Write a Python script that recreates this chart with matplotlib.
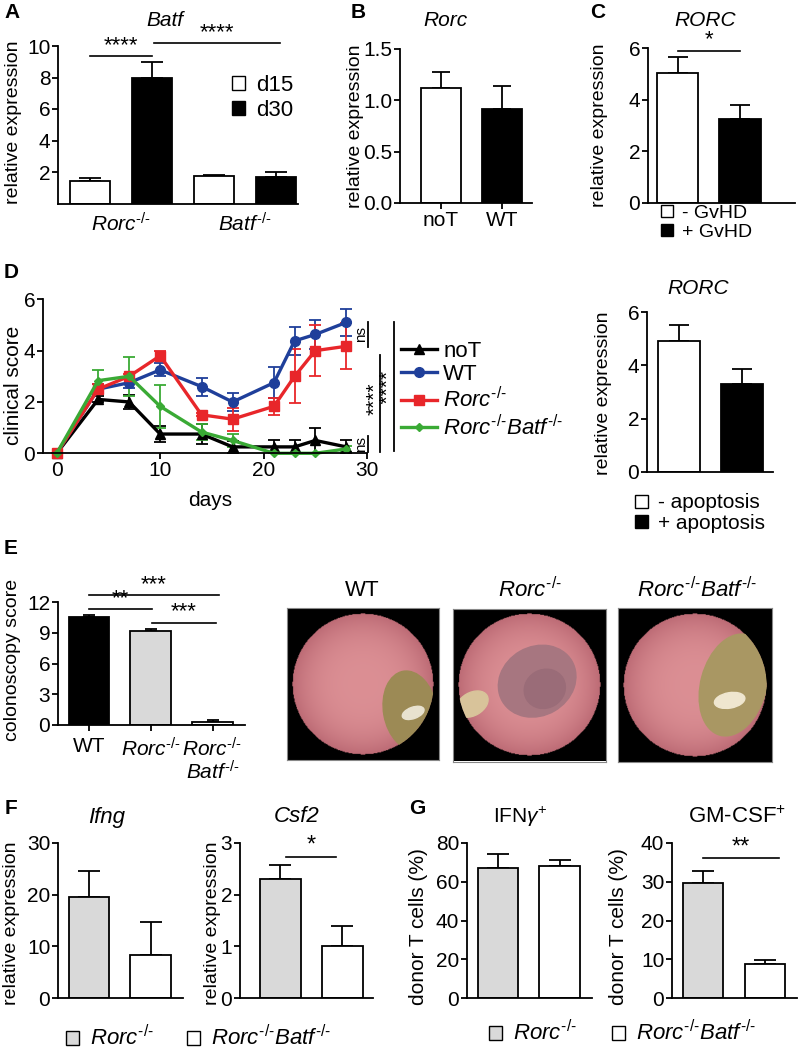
import numpy as np
import matplotlib
matplotlib.use("Agg")
import matplotlib.pyplot as plt
from matplotlib.patches import Patch, Ellipse, Circle

plt.rcParams['font.family'] = ['Liberation Sans', 'DejaVu Sans']
plt.rcParams['mathtext.fontset'] = 'custom'
plt.rcParams['mathtext.rm'] = 'Liberation Sans'
plt.rcParams['mathtext.it'] = 'Liberation Sans:italic'
plt.rcParams['mathtext.bf'] = 'Liberation Sans:bold'

KO = r'^{\text{-/-}}'
RORC = r'$\mathit{Rorc}' + KO + '$'
BATF = r'$\mathit{Batf}' + KO + '$'
RB = r'$\mathit{Rorc}' + KO + r'\mathit{Batf}' + KO + '$'

# A: Batf expression
batf_d15 = [1.45, 1.72]
batf_d15_err = [0.15, 0.10]
batf_d30 = [8.0, 1.7]
batf_d30_err = [1.0, 0.32]
# B: Rorc expression
rorc_groups = ['noT', 'WT']
rorc_vals = [1.12, 0.92]
rorc_err = [0.16, 0.22]
# C: RORC in GvHD
gvhd_vals = [5.05, 3.25]
gvhd_err = [0.60, 0.55]
# D: clinical score
days = [0, 4, 7, 10, 14, 17, 21, 23, 25, 28]
score_noT = [0, 2.1, 2.0, 0.75, 0.75, 0.25, 0.25, 0.25, 0.5, 0.25]
score_noT_err = [0, 0.12, 0.28, 0.3, 0.4, 0.22, 0.25, 0.25, 0.5, 0.25]
score_wt = [0, 2.5, 2.75, 3.25, 2.6, 2.0, 2.75, 4.38, 4.63, 5.1]
score_wt_err = [0, 0.2, 0.2, 0.25, 0.35, 0.35, 0.6, 0.55, 0.55, 0.52]
score_rorc = [0, 2.5, 3.0, 3.8, 1.5, 1.33, 1.83, 3.0, 4.0, 4.17]
score_rorc_err = [0, 0.2, 0.1, 0.17, 0.06, 0.45, 0.32, 1.05, 1.0, 0.9]
score_rb = [0, 2.83, 3.0, 1.83, 0.83, 0.5, 0, 0, 0, 0.17]
score_rb_err = [0, 0.43, 0.75, 0.83, 0.3, 0.25, 0, 0, 0, 0.1]
# D right: RORC and apoptosis
apop_vals = [4.9, 3.3]
apop_err = [0.6, 0.55]
# E: colonoscopy score
colon_groups = ['WT', RORC, RORC + '\n' + BATF]
colon_vals = [10.55, 9.2, 0.33]
colon_err = [0.15, 0.12, 0.12]
# F: expression
ifng_vals = [19.5, 8.4]
ifng_err = [5.0, 6.4]
csf2_vals = [2.3, 1.0]
csf2_err = [0.27, 0.4]
# G: donor T cells
ifn_pct = [67.0, 68.3]
ifn_pct_err = [7.3, 3.1]
gm_pct = [29.6, 8.7]
gm_pct_err = [3.3, 1.0]

GRAY = '#d9d9d9'
TICK = 15
W, H = 799, 1051
fig = plt.figure(figsize=(W / 100, H / 100), dpi=100)


def box(l, t, r, b):
    return fig.add_axes([l / W, 1 - b / H, (r - l) / W, (b - t) / H])


def txt(x, y, s, **kw):
    kw.setdefault('ha', 'center')
    kw.setdefault('va', 'center')
    fig.text(x / W, 1 - y / H, s, **kw)


def style(ax, xlim, ylim, yticks, fmt=None):
    for s in ['top', 'right']:
        ax.spines[s].set_visible(False)
    for s in ['left', 'bottom']:
        ax.spines[s].set_linewidth(1.3)
    ax.set_xlim(*xlim)
    ax.set_ylim(*ylim)
    ax.set_yticks(yticks)
    if fmt:
        ax.set_yticklabels([fmt % v for v in yticks])
    ax.tick_params(direction='out', length=4, width=1.3, labelsize=TICK, pad=1.5)
    ax.set_facecolor('none')


def bars(ax, vals, errs, colors, cap=7):
    pos = np.arange(len(vals))
    ax.bar(pos, vals, width=0.66, color=colors, edgecolor='k', linewidth=1.3, zorder=2)
    ax.errorbar(pos, vals, yerr=[np.zeros(len(vals)), errs], fmt='none', ecolor='k',
                elinewidth=1.3, capsize=cap, capthick=1.3, zorder=1)
    return pos


def sig(ax, x1, x2, y, s, size=16):
    ax.plot([x1, x2], [y, y], color='k', lw=1.2, clip_on=False)
    ax.text((x1 + x2) / 2, y, s, ha='center', va='bottom', fontsize=size)


def sq_legend(x, y, labels, colors, size=14, spacing=0.2):
    handles = [Patch(facecolor=c, edgecolor='k', linewidth=1.0) for c in colors]
    fig.legend(handles, labels, loc='center left', bbox_to_anchor=(x / W, 1 - y / H),
               frameon=False, fontsize=size, handlelength=0.6, handleheight=0.6,
               handletextpad=0.5, labelspacing=spacing, borderpad=0, borderaxespad=0)


# ---- A ----
axA = box(58, 46, 298, 203.5)
style(axA, (-0.516, 3.355), (0, 10), [2, 4, 6, 8, 10])
vals = [batf_d15[0], batf_d30[0], batf_d15[1], batf_d30[1]]
errs = [batf_d15_err[0], batf_d30_err[0], batf_d15_err[1], batf_d30_err[1]]
bars(axA, vals, errs, ['white', 'k', 'white', 'k'], cap=8)
axA.set_xticks([0.5, 2.5])
axA.set_xticklabels([RORC, BATF], fontsize=15)
axA.tick_params(axis='x', length=0, pad=6)
sig(axA, 0, 1, 9.35, '****')
sig(axA, 1.03, 3.06, 10.2, '****')
sq_legend(232, 98, ['d15', 'd30'], ['white', 'k'], size=16)
txt(165, 20, 'Batf', fontsize=15, style='italic')
txt(14, 122, 'relative expression', rotation=90, fontsize=14)
txt(12, 12, 'A', fontsize=15, weight='bold')

# ---- B ----
axB = box(400, 49, 532, 203)
style(axB, (-0.672, 1.492), (0, 1.5), [0.0, 0.5, 1.0, 1.5], fmt='%.1f')
p = bars(axB, rorc_vals, rorc_err, ['white', 'k'], cap=6.5)
axB.set_xticks(p)
axB.set_xticklabels(rorc_groups, fontsize=15)
txt(445, 20, 'Rorc', fontsize=15, style='italic')
txt(355, 126, 'relative expression', rotation=90, fontsize=14)
txt(358, 12, 'B', fontsize=15, weight='bold')

# ---- C ----
axC = box(648, 48, 795, 203)
style(axC, (-0.472, 1.88), (0, 6), [0, 2, 4, 6])
bars(axC, gvhd_vals, gvhd_err, ['white', 'k'], cap=7)
axC.set_xticks([])
sig(axC, 0, 1, 5.9, '*')
sq_legend(661, 223, ['- GvHD', '+ GvHD'], ['white', 'k'], size=14, spacing=0.1)
txt(705, 20, 'RORC', fontsize=15, style='italic')
txt(599, 125, 'relative expression', rotation=90, fontsize=14)
txt(598, 12, 'C', fontsize=15, weight='bold')

# ---- D ----
axD = box(43, 299.3, 367, 453.3)
style(axD, (-1.33, 30), (0, 6), [0, 2, 4, 6])
axD.set_xticks([0, 10, 20, 30])
series = [
    ('noT', score_noT, score_noT_err, 'k', '^', 7),
    ('WT', score_wt, score_wt_err, '#1f3f9a', 'o', 7),
    (RORC, score_rorc, score_rorc_err, '#e8262a', 's', 7),
    (RB, score_rb, score_rb_err, '#3aaa35', 'D', 4),
]
handles = []
for label, y, e, c, m, ms in series:
    cont = axD.errorbar(days, y, yerr=e, color=c, marker=m, ms=ms, lw=2.4,
                        elinewidth=1.3, capsize=4, capthick=1.3, clip_on=False, label=label)
    handles.append(cont[0])
axD.plot([30.1, 30.1], [4.14, 5.11], color='k', lw=1.3, clip_on=False)
axD.text(29.45, 4.63, 'ns', rotation=90, ha='center', va='center', fontsize=11)
axD.plot([30.1, 30.1], [0.05, 0.67], color='k', lw=1.3, clip_on=False)
axD.text(29.45, 0.36, 'ns', rotation=90, ha='center', va='center', fontsize=11)
axD.plot([31.3, 31.3], [0.05, 3.83], color='k', lw=1.3, clip_on=False)
axD.plot([32.6, 32.6], [0.09, 5.11], color='k', lw=1.3, clip_on=False)
# both star columns in one rotated two-line text
axD.text(31.45, 2.35, '****\n  ****', rotation=90, ha='center', va='center',
         multialignment='left', linespacing=0.62, fontsize=15)
fig.legend(handles, [s[0] for s in series], loc='upper left',
           bbox_to_anchor=(401 / W, 1 - 341 / H), frameon=False, fontsize=16,
           handlelength=1.6, handletextpad=0.3, labelspacing=0.1, borderpad=0,
           borderaxespad=0)
txt(210, 500, 'days', fontsize=15)
txt(14, 385, 'clinical score', rotation=90, fontsize=15)
txt(11, 273, 'D', fontsize=15, weight='bold')

# ---- D right ----
axR = box(647, 312, 773, 472)
style(axR, (-0.508, 1.492), (0, 6), [0, 2, 4, 6])
bars(axR, apop_vals, apop_err, ['white', 'k'], cap=7)
axR.set_xticks([])
sq_legend(635, 513, ['- apoptosis', '+ apoptosis'], ['white', 'k'], size=15, spacing=0.05)
txt(698, 288, 'RORC', fontsize=15, style='italic')
txt(604, 393, 'relative expression', rotation=90, fontsize=14)

# ---- E ----
axE = box(58, 602, 245, 725)
style(axE, (-0.502, 2.526), (0, 12), [0, 3, 6, 9, 12])
p = bars(axE, colon_vals, colon_err, ['k', GRAY, 'white'], cap=4)
axE.set_xticks(p)
axE.set_xticklabels(colon_groups, fontsize=15, linespacing=1.0)
axE.tick_params(axis='x', pad=5)
sig(axE, 0, 2.1, 12.7, '***')
sig(axE, 0, 1.02, 11.3, '**')
sig(axE, 1.02, 2.06, 10.0, '***')
txt(13, 660, 'colonoscopy score', rotation=90, fontsize=14)
txt(11, 549, 'E', fontsize=15, weight='bold')


def scope(ax, blobs):
    n = 200
    yy, xx = np.mgrid[-1:1:n * 1j, -1:1:n * 1j]
    r = np.hypot(xx, yy)
    t = np.clip(r / 0.93, 0, 1)[..., None]
    centre = np.array([0.86, 0.56, 0.58])
    rim = np.array([0.74, 0.42, 0.46])
    img = centre * (1 - t ** 3) + rim * t ** 3
    img[r > 0.93] = 0
    ax.imshow(img, extent=(-1, 1, -1, 1), interpolation='bilinear')
    clip = Circle((0, 0), 0.93, transform=ax.transData)
    for (cx, cy, w, h, ang, col) in blobs:
        e = Ellipse((cx, cy), w, h, angle=ang, color=col)
        ax.add_patch(e)
        e.set_clip_path(clip)
    ax.set_xlim(-1, 1)
    ax.set_ylim(-1, 1)
    ax.set_xticks([])
    ax.set_yticks([])
    for s in ax.spines.values():
        s.set_color('#888888')
        s.set_linewidth(0.8)


ph1 = box(287, 605, 439, 763)
scope(ph1, [(0.62, -0.35, 0.7, 1.05, 10, '#9c8a55'), (0.66, -0.38, 0.3, 0.15, 20, '#e8e2cf')])
ph2 = box(453, 607, 606, 763)
scope(ph2, [(0.1, 0.05, 1.05, 0.9, 30, '#a77680'), (0.2, -0.05, 0.55, 0.5, 30, '#9a6c78'),
            (-0.75, -0.25, 0.45, 0.3, 30, '#d8c39a')])
ph3 = box(618, 607, 772, 763)
scope(ph3, [(0.5, 0.0, 0.85, 1.35, -15, '#a99763'), (0.45, -0.2, 0.4, 0.2, 10, '#efe6cf')])
txt(362, 590, 'WT', fontsize=16)
txt(530, 590, RORC, fontsize=16)
txt(697, 590, RB, fontsize=16)

# ---- F ----
axF1 = box(58, 843, 183, 998)
style(axF1, (-0.504, 1.528), (0, 30), [0, 10, 20, 30])
bars(axF1, ifng_vals, ifng_err, [GRAY, 'white'], cap=8)
axF1.set_xticks([])
axF2 = box(240, 843, 373, 998)
style(axF2, (-0.653, 1.492), (0, 3), [0, 1, 2, 3])
bars(axF2, csf2_vals, csf2_err, [GRAY, 'white'], cap=8)
axF2.set_xticks([])
sig(axF2, 0.09, 0.9, 2.73, '*', size=17)
txt(107, 817, 'Ifng', fontsize=16, style='italic')
txt(297, 817, 'Csf2', fontsize=16, style='italic')
txt(12, 923, 'relative expression', rotation=90, fontsize=14)
txt(212, 923, 'relative expression', rotation=90, fontsize=14)
sq_legend(66, 1038, [RORC], [GRAY], size=16)
sq_legend(187, 1038, [RB], ['white'], size=16)
txt(11, 808, 'F', fontsize=15, weight='bold')

# ---- G ----
axG1 = box(467, 843, 592, 998)
style(axG1, (-0.504, 1.528), (0, 80), [0, 20, 40, 60, 80])
bars(axG1, ifn_pct, ifn_pct_err, [GRAY, 'white'], cap=8)
axG1.set_xticks([])
axG2 = box(672, 843, 797, 998)
style(axG2, (-0.5, 1.516), (0, 40), [0, 10, 20, 30, 40])
bars(axG2, gm_pct, gm_pct_err, [GRAY, 'white'], cap=8)
axG2.set_xticks([])
sig(axG2, 0, 1.23, 36.1, '**', size=17)
txt(520, 817, r'IFN$\gamma^{+}$', fontsize=15)
txt(737, 817, r'GM-CSF$^{+}$', fontsize=16)
txt(418, 927, 'donor T cells (%)', rotation=90, fontsize=15)
txt(618, 927, 'donor T cells (%)', rotation=90, fontsize=15)
sq_legend(489, 1033, [RORC], [GRAY], size=16)
sq_legend(612, 1033, [RB], ['white'], size=16)
txt(417, 808, 'G', fontsize=15, weight='bold')

fig.savefig('out.png', dpi=100)
